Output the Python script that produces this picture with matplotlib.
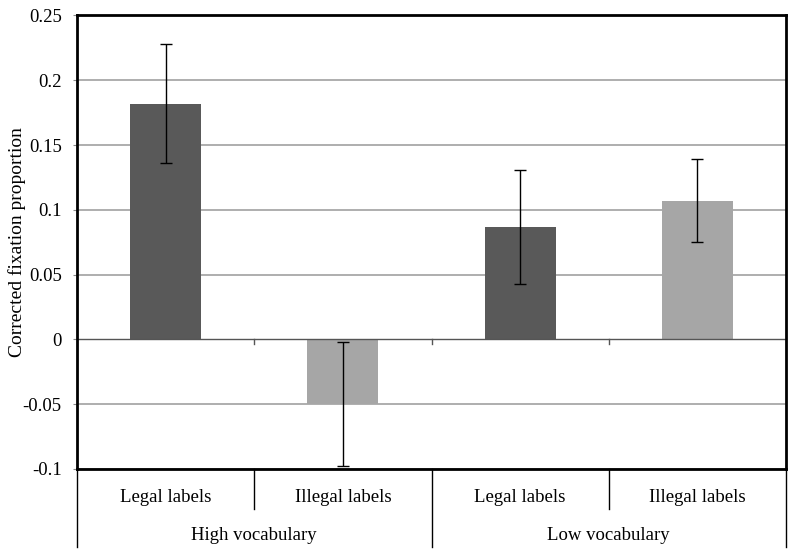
import matplotlib
matplotlib.use("Agg")
import matplotlib.pyplot as plt
import matplotlib.transforms as mtransforms

# Data
conditions = ["Legal labels", "Illegal labels", "Legal labels", "Illegal labels"]
groups = ["High vocabulary", "Low vocabulary"]
values = [0.182, -0.050, 0.087, 0.107]
errors = [0.046, 0.048, 0.044, 0.032]
bar_colors = ["#595959", "#a6a6a6", "#595959", "#a6a6a6"]
y_ticks = [-0.1, -0.05, 0, 0.05, 0.1, 0.15, 0.2, 0.25]
y_tick_labels = ["-0.1", "-0.05", "0", "0.05", "0.1", "0.15", "0.2", "0.25"]

plt.rcParams["font.family"] = ["Liberation Serif", "DejaVu Serif"]
plt.rcParams["font.size"] = 13.5

fig = plt.figure(figsize=(8, 5.53), dpi=100)
ax = fig.add_axes([0.09625, 0.1519, 0.8863, 0.8201])

x = list(range(len(values)))

# gridlines behind the bars
for t in y_ticks:
    if t == 0:
        continue
    ax.axhline(t, color="#a8a8a8", lw=1.3, zorder=0)

ax.bar(x, values, width=0.4, color=bar_colors, zorder=2)
ax.errorbar(x, values, yerr=errors, fmt="none", ecolor="black",
            elinewidth=1.0, capsize=4, capthick=1.0, zorder=3)

trans = mtransforms.blended_transform_factory(ax.transData, ax.transAxes)
zero_frac = 0.1 / 0.35

# zero line with small downward ticks at category boundaries
ax.axhline(0, color="#555555", lw=1.0, zorder=2.5)
for b in [0.5, 1.5, 2.5]:
    ax.plot([b, b], [zero_frac, zero_frac - 0.011], color="#555555", lw=1.0,
            transform=trans, zorder=2.5)

ax.set_xlim(-0.5, 3.5)
ax.set_ylim(-0.1, 0.25)
ax.set_yticks(y_ticks)
ax.set_yticklabels(y_tick_labels)
ax.tick_params(axis="y", length=3, width=0.8, color="#888888", direction="out", pad=8)
ax.set_xticks([])
for s in ax.spines.values():
    s.set_linewidth(2.0)
    s.set_color("black")

ax.set_ylabel("Corrected fixation proportion", fontsize=14)
ax.yaxis.set_label_coords(-0.072, 0.5)

# hierarchical category axis below the plot
for b in [0.5, 2.5]:
    ax.plot([b, b], [0, -0.088], color="black", lw=1.0, transform=trans, clip_on=False)
for b in [-0.5, 1.5, 3.5]:
    ax.plot([b, b], [0, -0.172], color="black", lw=1.0, transform=trans, clip_on=False)

for xi, lab in zip(x, conditions):
    ax.text(xi, -0.062, lab, transform=trans, ha="center", va="center")
for gi, g in enumerate(groups):
    ax.text(gi * 2 + 0.5, -0.146, g, transform=trans, ha="center", va="center")

fig.savefig("out.png", dpi=100)
